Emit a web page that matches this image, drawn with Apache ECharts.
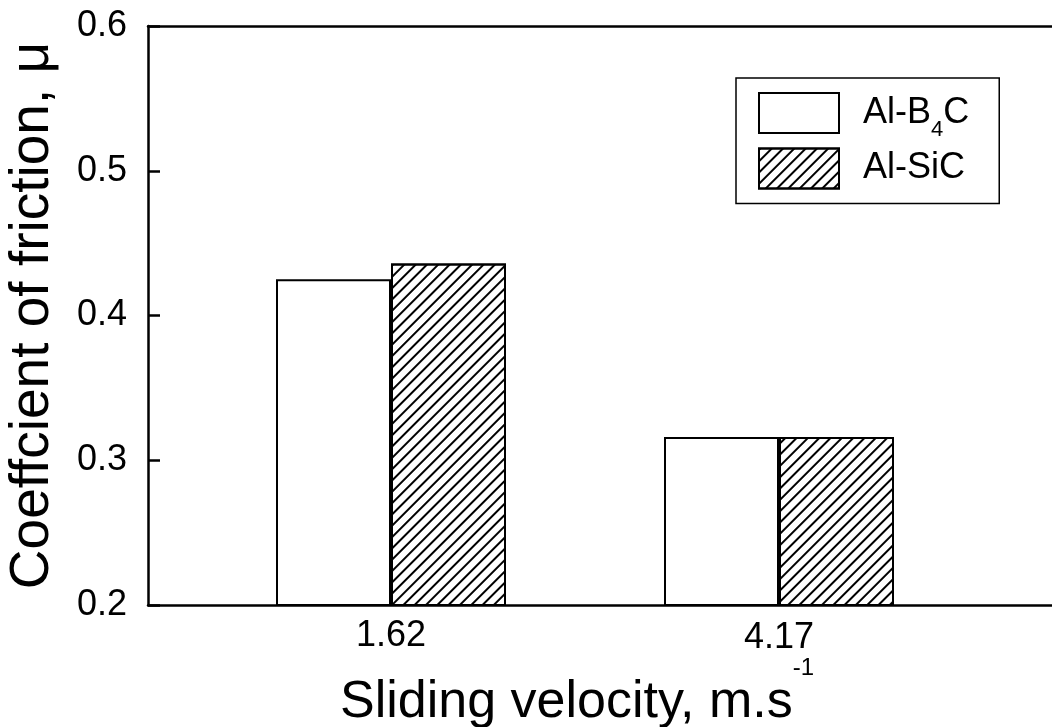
<!DOCTYPE html>
<html>
<head>
    <meta charset="UTF-8">
    <script src="https://cdn.jsdelivr.net/npm/echarts@6/dist/echarts.min.js"></script>
    <style>
        html, body { margin: 0; padding: 0; background: #fff; }
    </style>
</head>
<body>
<div id="chart" style="width:1052px;height:727px"></div>
<script type="text/javascript">
    // sliding velocity (m/s) categories
    var velocities = ['1.62', '4.17'];
    // coefficient of friction per composite
    var alB4C = [0.425, 0.316];
    var alSiC = [0.436, 0.316];
    var yTicks = [0.2, 0.3, 0.4, 0.5, 0.6];

    var font = 'Liberation Sans, Arial, sans-serif';
    var mychart = echarts.init(document.getElementById('chart'));

    var option = {
        backgroundColor: '#fff',
        animation: false,
        textStyle: { fontFamily: font, color: '#000' },
        grid: [
            { left: 148, top: 26, bottom: 122, right: -30, outerBoundsMode: 'none', containLabel: false },
            { left: 197, top: 26, bottom: 122, width: 776, outerBoundsMode: 'none', containLabel: false }
        ],
        legend: {
            orient: 'vertical',
            left: 736,
            top: 78,
            padding: [14, 30, 14, 22],
            borderColor: '#000',
            borderWidth: 1.5,
            itemGap: 7,
            itemWidth: 80,
            itemHeight: 40,
            icon: 'rect',
            data: ['Al-B4C', 'Al-SiC'],
            formatter: function (name) {
                if (name === 'Al-B4C') return '{m|Al-B}{sub|4}{m|C}';
                return '{m|' + name + '}';
            },
            textStyle: {
                padding: [0, 0, 0, 19],
                rich: {
                    m: { fontSize: 36, fontFamily: font, color: '#000', lineHeight: 55, verticalAlign: 'middle' },
                    sub: { fontSize: 22, fontFamily: font, color: '#000', lineHeight: 22, verticalAlign: 'bottom' }
                }
            }
        },
        xAxis: [
            {
                type: 'value', gridIndex: 0, min: 0, max: 1,
                axisLine: { show: true, lineStyle: { color: '#000', width: 2.5 } },
                axisTick: { show: false }, axisLabel: { show: false }, splitLine: { show: false }
            },
            {
                type: 'value', gridIndex: 0, position: 'top', min: 0, max: 1,
                axisLine: { show: true, lineStyle: { color: '#000', width: 2.5 } },
                axisTick: { show: false }, axisLabel: { show: false }, splitLine: { show: false }
            },
            {
                type: 'category', gridIndex: 1,
                data: [{ value: velocities[0] }, { value: velocities[1], textStyle: { padding: [2, 0, 0, 0] } }],
                axisLine: { show: false }, axisTick: { show: false },
                axisLabel: { fontSize: 36, fontFamily: font, color: '#000', margin: 13 },
                name: '{m|Sliding velocity, m.s}{sup|-1}',
                nameLocation: 'middle',
                nameMoveOverlap: false,
                nameGap: 51,
                nameTextStyle: {
                    padding: [0, 16, 0, 0],
                    rich: {
                        m: { fontSize: 52, fontFamily: font, color: '#000', lineHeight: 94, verticalAlign: 'middle' },
                        sup: { fontSize: 24, fontFamily: font, color: '#000', lineHeight: 24, verticalAlign: 'top' }
                    }
                }
            }
        ],
        yAxis: [
            {
                type: 'value', gridIndex: 0,
                min: yTicks[0], max: yTicks[yTicks.length - 1], interval: 0.1,
                axisLine: { show: true, lineStyle: { color: '#000', width: 2.5 } },
                axisTick: { show: true, inside: true, length: 12, lineStyle: { color: '#000', width: 2.5 } },
                axisLabel: { fontSize: 36, fontFamily: font, color: '#000', margin: 21,
                    formatter: function (v) { return v.toFixed(1); } },
                splitLine: { show: false },
                name: 'Coeffcient of friction, \u03bc',
                nameLocation: 'middle',
                nameGap: 88,
                nameTextStyle: { fontSize: 55, fontFamily: font, color: '#000' }
            },
            {
                type: 'value', gridIndex: 1,
                min: yTicks[0], max: yTicks[yTicks.length - 1], show: false
            }
        ],
        series: [
            {
                name: 'Al-B4C',
                type: 'bar',
                xAxisIndex: 2,
                yAxisIndex: 1,
                barWidth: 115,
                barGap: '0%',
                data: alB4C,
                itemStyle: { color: '#fff', borderColor: '#000', borderWidth: 2 }
            },
            {
                name: 'Al-SiC',
                type: 'bar',
                xAxisIndex: 2,
                yAxisIndex: 1,
                barWidth: 115,
                barGap: '0%',
                data: alSiC,
                itemStyle: {
                    color: '#fff', borderColor: '#000', borderWidth: 2,
                    decal: {
                        symbol: 'rect', symbolSize: 1, color: '#000',
                        dashArrayX: [1, 0], dashArrayY: [1.8, 5.5],
                        rotation: -Math.PI / 4
                    }
                }
            }
        ]
    };
    mychart.setOption(option, true);
</script>
</body>
</html>
